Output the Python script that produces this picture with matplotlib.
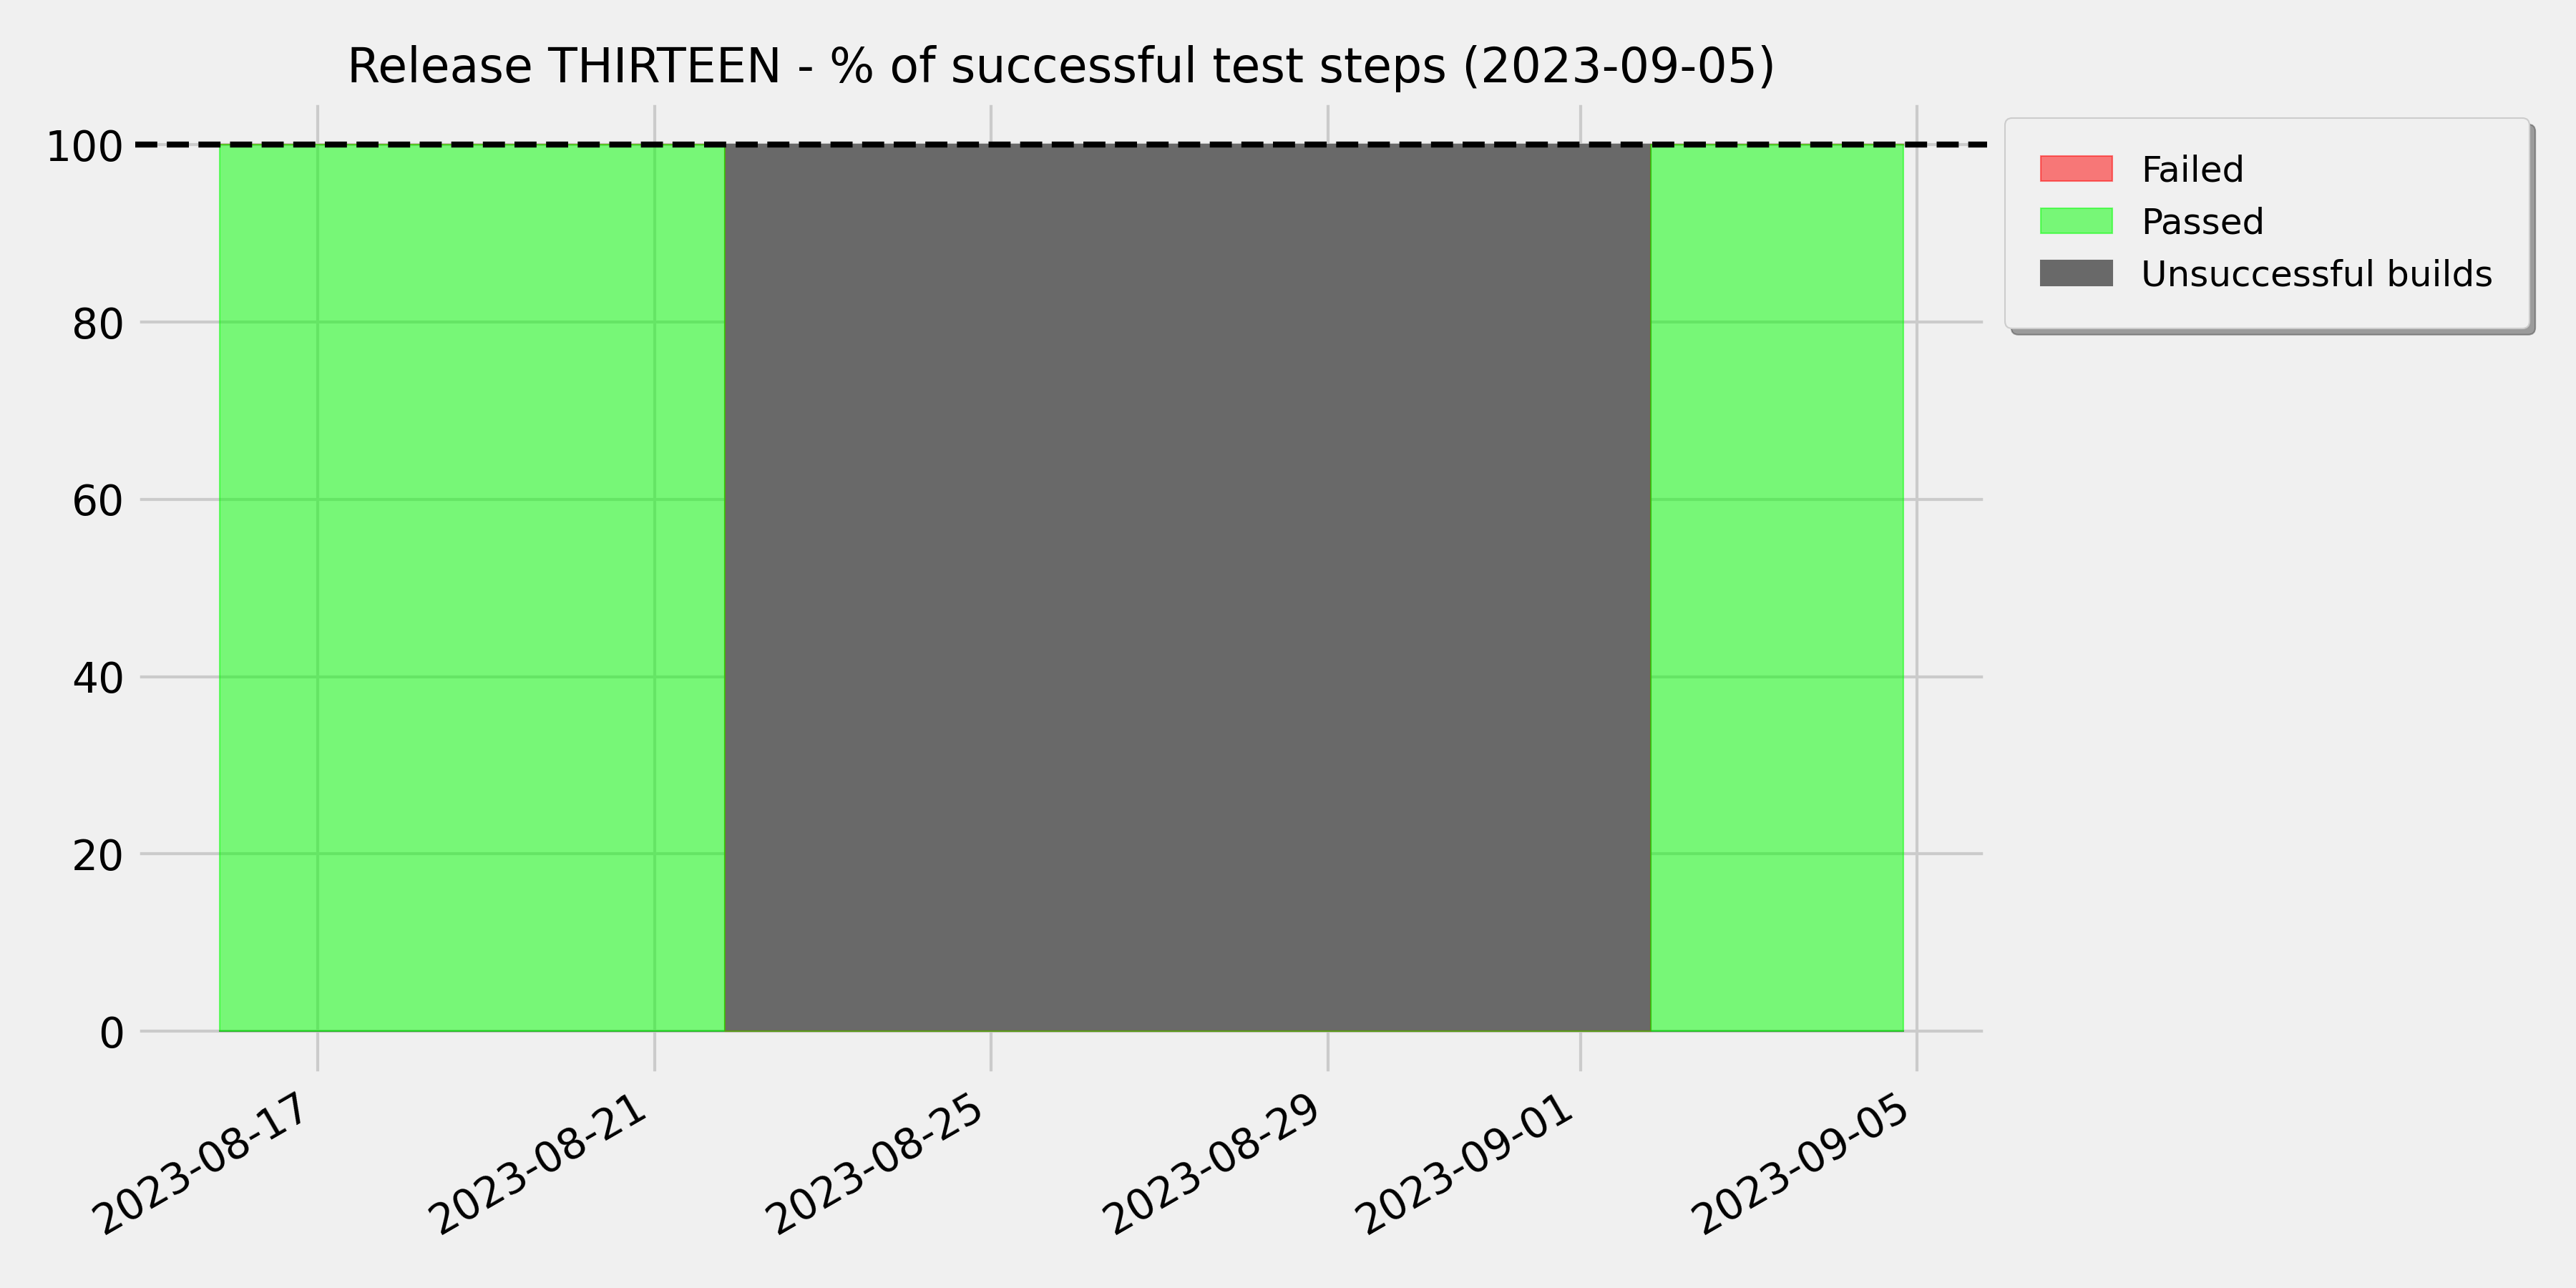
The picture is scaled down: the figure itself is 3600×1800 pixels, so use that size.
import matplotlib
matplotlib.use("Agg")
import matplotlib.pyplot as plt
import pandas as pd

# ---- data ----
run_dates = [
    "2023-08-15 20:00", "2023-08-16 20:00", "2023-08-17 20:00", "2023-08-18 20:00",
    "2023-08-19 20:00", "2023-08-20 20:00", "2023-08-21 20:00", "2023-08-22 20:00",
    "2023-08-23 20:00", "2023-08-24 20:00", "2023-08-25 20:00", "2023-08-26 20:00",
    "2023-08-27 20:00", "2023-08-28 20:00", "2023-08-29 20:00", "2023-08-30 20:00",
    "2023-08-31 20:00", "2023-09-01 20:00", "2023-09-02 20:00", "2023-09-03 20:00",
    "2023-09-04 20:00",
]
passed_pct = [100, 100, 100, 100, 100, 100, 100, 0, 0, 0, 0, 0, 0, 0, 0, 0, 0, 0, 100, 100, 100]
failed_pct = [0] * 21
unsuccessful = [0, 0, 0, 0, 0, 0, 0, 100, 100, 100, 100, 100, 100, 100, 100, 100, 100, 100, 0, 0, 0]
target_pct = 100
title = "Release THIRTEEN - % of successful test steps (2023-09-05)"

dates = pd.to_datetime(run_dates)
top_failed = [p + f for p, f in zip(passed_pct, failed_pct)]

plt.style.use("fivethirtyeight")
fig, ax = plt.subplots(figsize=(12, 6), dpi=300)
fig.patch.set_facecolor("#f0f0f0")

ax.fill_between(dates, passed_pct, top_failed, step="pre", color="red", alpha=0.5,
                label="Failed", zorder=2)
ax.fill_between(dates, 0, passed_pct, step="pre", color="lime", alpha=0.5,
                label="Passed", zorder=2)
ax.fill_between(dates, 0, unsuccessful, step="pre", color="dimgray", alpha=1.0,
                label="Unsuccessful builds", zorder=1)
ax.axhline(target_pct, color="black", linestyle="--", linewidth=2, zorder=3)

ax.set_title(title, fontsize=16)
ax.set_yticks([0, 20, 40, 60, 80, 100])
ax.tick_params(axis="both", labelsize=14)
for lbl in ax.get_xticklabels():
    lbl.set_rotation(30)
    lbl.set_ha("right")

ax.legend(loc="upper left", bbox_to_anchor=(1.0, 1.0), shadow=True, fancybox=True,
          fontsize=12, borderpad=1.0, labelspacing=0.5)

fig.subplots_adjust(left=0.0525, right=0.7715, top=0.922, bottom=0.165)
fig.savefig("out.png", dpi=300, facecolor=fig.get_facecolor())
